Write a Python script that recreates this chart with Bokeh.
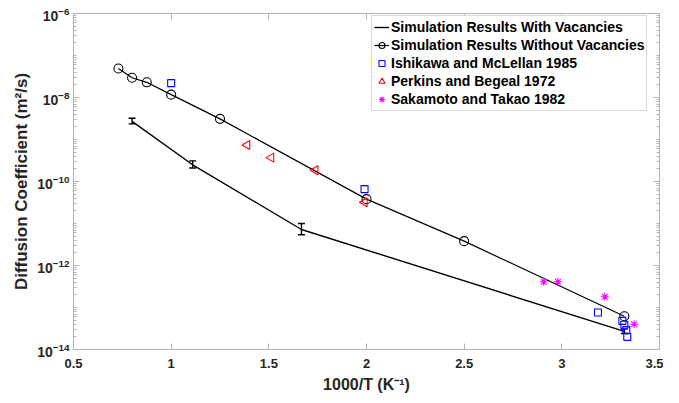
import numpy as np
from bokeh.plotting import figure
from bokeh.models import (LogAxis, LinearAxis, FixedTicker, Whisker, ColumnDataSource,
                          TeeHead, Range1d)
from bokeh.embed import file_html
from bokeh.resources import INLINE

# ---------------- data ----------------
x_novac = [0.73, 0.80, 0.875, 1.0, 1.25, 2.0, 2.5, 3.32]
D_novac = [4.9e-8, 2.95e-8, 2.3e-8, 1.17e-8, 3.1e-9, 3.8e-11, 3.8e-12, 6.2e-14]

x_vac = [0.80, 1.11, 1.667, 3.32]
D_vac = [2.7e-9, 2.5e-10, 7.2e-12, 2.7e-14]
D_vac_lo = [2.35e-9, 2.1e-10, 5.4e-12, 2.4e-14]
D_vac_hi = [3.2e-9, 3.1e-10, 1.0e-11, 3.05e-14]

x_ishi = [1.0, 1.99, 3.185, 3.31, 3.32, 3.33, 3.335]
D_ishi = [2.2e-8, 6.6e-11, 7.6e-14, 4.8e-14, 3.9e-14, 2.9e-14, 2.0e-14]

x_perk = [1.389, 1.512, 1.738, 1.99]
D_perk = [7.4e-10, 3.7e-10, 1.85e-10, 3.2e-11]

x_saka = [2.907, 2.98, 3.22, 3.37]
D_saka = [4.1e-13, 4.1e-13, 1.8e-13, 4.0e-14]

x_ticks = [0.5, 1, 1.5, 2, 2.5, 3, 3.5]
x_tick_labels = ["0.5", "1", "1.5", "2", "2.5", "3", "3.5"]
y_ticks = [1e-14, 1e-12, 1e-10, 1e-8, 1e-6]
y_minor = [m * 10.0 ** k for k in range(-14, -6) for m in range(1, 10)] + [1e-6]

FONT = "Liberation Sans"
AX_COL = "#b4b4b4"
TXT_COL = "#262626"

p = figure(width=663, height=395, x_range=Range1d(0.5, 3.5), y_range=Range1d(1e-14, 1e-6),
           y_axis_type="log", output_backend="svg", toolbar_location=None,
           min_border_left=73, min_border_right=4, min_border_top=13, min_border_bottom=44)
p.grid.visible = False
p.outline_line_color = AX_COL
p.background_fill_color = "white"

xb = p.xaxis[0]
xb.ticker = FixedTicker(ticks=x_ticks)
xb.major_label_overrides = {t: l for t, l in zip(x_ticks, x_tick_labels)}
xb.axis_label = "1000/T (K\u207b\u00b9)"

yl = p.yaxis[0]
yl.ticker = FixedTicker(ticks=y_ticks, minor_ticks=y_minor)
yl.axis_label = "Diffusion Coefficient (m\u00b2/s)"

for ax in (xb, yl):
    ax.axis_line_color = AX_COL
    ax.major_tick_line_color = AX_COL
    ax.minor_tick_line_color = AX_COL
    ax.major_tick_in = 6
    ax.major_tick_out = 0
    ax.minor_tick_in = 3
    ax.minor_tick_out = 0
    ax.major_label_text_font = FONT
    ax.major_label_text_font_style = "bold"
    ax.major_label_text_font_size = "13px"
    ax.major_label_text_color = TXT_COL
    ax.axis_label_text_font = FONT
    ax.axis_label_text_font_style = "bold"
    ax.axis_label_text_color = TXT_COL
xb.major_label_standoff = 9
xb.axis_label_standoff = 5
yl.major_label_standoff = 4
yl.axis_label_standoff = 3
xb.axis_label_text_font_size = "16px"
yl.axis_label_text_font_size = "17px"
yl.major_label_text_font_size = "14px"
xb.minor_tick_line_color = None

# top / right axes (ticks only, labels not drawn)
xt = LinearAxis(ticker=FixedTicker(ticks=x_ticks))
yr = LogAxis(ticker=FixedTicker(ticks=y_ticks, minor_ticks=y_minor))
for ax in (xt, yr):
    ax.axis_line_color = AX_COL
    ax.major_tick_line_color = AX_COL
    ax.minor_tick_line_color = AX_COL
    ax.major_tick_in = 6
    ax.major_tick_out = 0
    ax.minor_tick_in = 3
    ax.minor_tick_out = 0
    ax.major_label_text_font_size = "1px"
    ax.major_label_text_color = None
    ax.major_label_standoff = 0
xt.minor_tick_line_color = None
p.add_layout(xt, "above")
p.add_layout(yr, "right")

# with vacancies: line + error bars
p.line(x_vac, D_vac, line_color="black", line_width=1.4,
       legend_label="Simulation Results With Vacancies")
src = ColumnDataSource(dict(base=x_vac, lower=D_vac_lo, upper=D_vac_hi))
p.add_layout(Whisker(base="base", lower="lower", upper="upper", source=src,
                     line_color="black", line_width=1.4,
                     upper_head=TeeHead(size=7, line_color="black", line_width=1.4),
                     lower_head=TeeHead(size=7, line_color="black", line_width=1.4)))

# without vacancies: line + circles
lab2 = "Simulation Results Without Vacancies"
p.line(x_novac, D_novac, line_color="black", line_width=1.2, legend_label=lab2)
p.scatter(x_novac, D_novac, marker="circle", size=9, fill_color=None,
          line_color="black", line_width=1.1, legend_label=lab2)

p.scatter(x_ishi, D_ishi, marker="square", size=7, fill_color=None,
          line_color="#0000ff", line_width=1.1, legend_label="Ishikawa and McLellan 1985")
p.scatter(x_perk, D_perk, marker="triangle", size=9, angle=np.pi / 2, fill_color=None,
          line_color="#ff0000", line_width=1.1, legend_label="Perkins and Begeal 1972")
p.scatter(x_saka, D_saka, marker="asterisk", size=8,
          line_color="#ff00ff", line_width=1.1, legend_label="Sakamoto and Takao 1982")

lg = p.legend[0]
lg.location = (298, 238)
lg.label_text_font = FONT
lg.label_text_font_style = "bold"
lg.label_text_font_size = "14px"
lg.label_text_color = "black"
lg.label_height = 18
lg.glyph_height = 18
lg.glyph_width = 15
lg.spacing = 0
lg.padding = 2
lg.margin = 0
lg.label_standoff = 2
lg.border_line_color = AX_COL
lg.border_line_width = 1
lg.background_fill_alpha = 1

open("out.html", "w").write(file_html(p, INLINE))
